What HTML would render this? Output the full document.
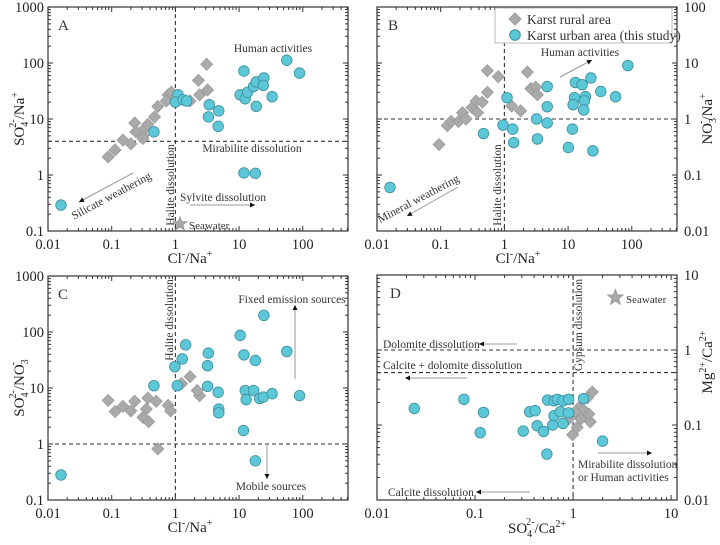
<!DOCTYPE html>
<html><head><meta charset="utf-8"><style>
body{margin:0;background:#fff}
svg{display:block;font-family:"Liberation Serif",serif}
</style></head><body>
<svg id="chart" width="720" height="545" viewBox="0 0 720 545"></svg>
<script>
// ---- Panel A data: SO4/Na vs Cl/Na ----
const aUrbanX=[0.016,0.46,1.1,1.0,1.32,1.5,3.4,3.3,4.8,4.7,11.9,10.4,12.5,13.6,16.9,18.6,24.5,24,18.6,33,56,89,11.9,18];
const aUrbanY=[0.29,5.9,27,20,22,21,18,10.9,14,7.4,72,27,23,30,38,46,54,40,16.8,25,112,66,1.09,1.07];
const aRuralX=[0.088,0.113,0.15,0.2,0.23,0.24,0.31,0.33,0.31,0.37,0.47,0.53,0.77,0.72,0.86,1.7,2.3,2.4,3.2,3.1];
const aRuralY=[2.1,2.8,4.2,3.6,8.5,5.9,5.1,6.8,4.5,8.0,10.9,16.8,27,21,30,21,49,27,33,95];
// ---- Panel B data: NO3/Na vs Cl/Na ----
const bUrbanX=[0.016,0.47,0.95,1.1,1.35,1.4,3.2,3.3,4.7,4.7,4.7,10.1,11.7,13,12.6,12,16.6,18.7,18,17.6,22.8,24.5,32.6,55.7,86.7];
const bUrbanY=[0.06,0.55,0.78,2.4,0.66,0.38,1.0,0.44,3.8,1.66,0.85,0.31,0.66,4.5,2.4,1.8,4.1,2.5,2.1,1.45,5.4,0.27,3.1,2.5,9.0];
const bRuralX=[0.094,0.127,0.146,0.19,0.22,0.25,0.31,0.36,0.38,0.45,0.54,0.54,0.8,1.3,1.8,2.3,2.6,3.1,3.3];
const bRuralY=[0.35,0.76,0.91,0.9,1.3,1.0,1.6,2.1,1.3,2.0,3.0,7.3,5.7,1.7,1.4,6.9,3.5,3.7,2.7];
// ---- Panel C data: SO4/NO3 vs Cl/Na ----
const cUrbanX=[0.016,0.46,0.98,1.07,1.28,1.45,3.3,3.2,3.2,4.7,4.8,4.8,10.4,11.9,11.7,12.5,12.9,16.9,18,18,21,24.5,24,33,56,89];
const cUrbanY=[0.28,11,24,11,33,59,42,25,10.7,8.4,4.2,3.6,87,39,1.74,9.0,6.2,9,31,0.5,6.5,198,6.9,7.9,45,7.3];
const cRuralX=[0.088,0.113,0.15,0.2,0.23,0.31,0.35,0.38,0.37,0.5,0.53,0.77,0.84,1.7,1.25,2.4,2.2];
const cRuralY=[6.0,3.8,4.7,3.9,5.8,3.0,4.2,2.5,6.6,5.8,0.82,4.9,3.9,16,12,7.3,9];
// ---- Panel D data: Mg/Ca vs SO4/Ca ----
const dUrbanX=[0.024,0.077,0.122,0.113,0.31,0.36,0.41,0.43,0.5,0.54,0.55,0.64,0.69,0.79,0.62,0.64,0.74,0.79,0.9,0.9,1.28,2.0];
const dUrbanY=[0.166,0.22,0.147,0.079,0.083,0.15,0.155,0.098,0.082,0.041,0.215,0.21,0.22,0.21,0.1,0.133,0.15,0.105,0.22,0.145,0.225,0.061];
const dRuralX=[0.99,1.1,1.2,1.15,1.27,1.5,1.45,1.57,1.4,1.05,0.9];
const dRuralY=[0.074,0.093,0.12,0.17,0.16,0.11,0.14,0.275,0.23,0.15,0.12];
const majorX1=['0.01','0.1','1','10','100'];
const majorYA=['0.1','1','10','100','1000'];
const majorYB=['0.01','0.1','1','10','100'];
const majorXD=['0.01','0.1','1','10'];
const majorYD=['0.01','0.1','1','10'];

const NS='http://www.w3.org/2000/svg';
const svg=document.getElementById('chart');
function el(tag,attrs,parent){const e=document.createElementNS(NS,tag);for(const k in attrs)e.setAttribute(k,attrs[k]);(parent||svg).appendChild(e);return e;}
function mkScale(p0,p1,l0,l1){return v=>p0+(Math.log10(v)-l0)/(l1-l0)*(p1-p0);}
function rich(x,y,parts,opts,parent){
  const t=el('text',Object.assign({x:x,y:y,'font-size':15,fill:'#222'},opts||{}),parent);
  let shift=0;
  parts.forEach(p=>{
    const s=document.createElementNS(NS,'tspan');
    s.textContent=p[0];
    let dy=0,fs=null,dx=null;
    if(p[1]==='sub'){dy=4;fs=10;}
    if(p[1]==='sup'){dy=-6;fs=10;}
    if(p[1]==='supback'){dy=-8;fs=10;dx=-6;}
    s.setAttribute('dy',dy-shift);shift=dy;
    if(fs)s.setAttribute('font-size',fs);
    if(dx!==null)s.setAttribute('dx',dx);
    t.appendChild(s);
  });
  return t;
}
function panel(cfg){
  const g=el('g',{});
  
  
  const sx=mkScale(cfg.x0,cfg.x1,cfg.lx0,cfg.lx1), sy=mkScale(cfg.y1,cfg.y0,cfg.ly0,cfg.ly1);
  cfg.sx=sx;cfg.sy=sy;
  const tg=el('g',{stroke:'#333','stroke-width':1},g);
  for(let d=Math.floor(cfg.lx0);d<=Math.ceil(cfg.lx1);d++){
    for(let m=1;m<10;m++){const v=m*Math.pow(10,d);const lv=Math.log10(v);if(lv<cfg.lx0-1e-6||lv>cfg.lx1+1e-6)continue;
      const x=sx(v),L=m===1?5:3;
      el('line',{x1:x,x2:x,y1:cfg.y1,y2:cfg.y1-L},tg);el('line',{x1:x,x2:x,y1:cfg.y0,y2:cfg.y0+L},tg);}
  }
  for(let d=Math.floor(cfg.ly0);d<=Math.ceil(cfg.ly1);d++){
    for(let m=1;m<10;m++){const v=m*Math.pow(10,d);const lv=Math.log10(v);if(lv<cfg.ly0-1e-6||lv>cfg.ly1+1e-6)continue;
      const y=sy(v),L=m===1?5:3;
      el('line',{x1:cfg.x0,x2:cfg.x0+L,y1:y,y2:y},tg);el('line',{x1:cfg.x1,x2:cfg.x1-L,y1:y,y2:y},tg);}
  }
  cfg.xt.forEach(s=>{const t=el('text',{x:sx(+s),y:cfg.y1+18,'text-anchor':'middle','font-size':14.5,fill:'#222'},g);t.textContent=s;
    });
  cfg.yt.forEach(s=>{const right=cfg.yRight;const t=el('text',{x:right?cfg.x1+7:cfg.x0-4,y:sy(+s)+5,'text-anchor':right?'start':'end','font-size':14.5,fill:'#222'},g);t.textContent=s;
    });
  (cfg.hl||[]).forEach(v=>{const l=el('line',{x1:cfg.x0,x2:cfg.x1,y1:sy(v),y2:sy(v),stroke:'#333','stroke-dasharray':'4,3','stroke-width':1.1},g);
    });
  (cfg.vl||[]).forEach(v=>{const l=el('line',{x1:sx(v),x2:sx(v),y1:cfg.y0,y2:cfg.y1,stroke:'#333','stroke-dasharray':'4,3','stroke-width':1.1},g);
    });
  cfg.rx.forEach((v,i)=>{const x=sx(v),y=sy(cfg.ry[i]),r=6;
    const d=el('path',{d:`M${x},${y-r}L${x+r},${y}L${x},${y+r}L${x-r},${y}Z`,fill:'#aaaaaa',stroke:'#9a9a9a','stroke-width':0.8},g);
    });
  cfg.ux.forEach((v,i)=>{const c=el('circle',{cx:sx(v),cy:sy(cfg.uy[i]),r:5.3,fill:'#5cc8d7',stroke:'#3d8e9c','stroke-width':0.8},g);
    });
  const f=el('rect',{x:cfg.x0,y:cfg.y0,width:cfg.x1-cfg.x0,height:cfg.y1-cfg.y0,fill:'none',stroke:'#333','stroke-width':1.2},g);
  
  return g;
}
function label(g,x,y,txt,name,opts){const t=el('text',Object.assign({x:x,y:y,'font-size':11.5,fill:'#333'},opts||{}),g);t.textContent=txt;
  return t;}
function arrow(g,x1,y1,x2,y2,name){
  const l=el('line',{x1:x1,y1:y1,x2:x2,y2:y2,stroke:'#999','stroke-width':1},g);
  
  const a=Math.atan2(y2-y1,x2-x1),s=5;
  el('path',{d:`M${x2},${y2}L${x2-s*Math.cos(a)+2.5*Math.sin(a)},${y2-s*Math.sin(a)-2.5*Math.cos(a)}L${x2-s*Math.cos(a)-2.5*Math.sin(a)},${y2-s*Math.sin(a)+2.5*Math.cos(a)}Z`,fill:'#111'},g);
}
function star(g,cx,cy,r,name){let p='';for(let i=0;i<10;i++){const rr=i%2?r*0.42:r;const a=-Math.PI/2+i*Math.PI/5;p+=(i?'L':'M')+(cx+rr*Math.cos(a))+','+(cy+rr*Math.sin(a));}
  const s=el('path',{d:p+'Z',fill:'#aaa',stroke:'#999'},g);}

// Panel A
const A={name:'panel-a',x0:48,x1:348,lx0:-2,lx1:2.71,y0:7,y1:231,ly0:-1,ly1:3,xt:majorX1,yt:majorYA,hl:[4],vl:[1],ux:aUrbanX,uy:aUrbanY,rx:aRuralX,ry:aRuralY};
const gA=panel(A);
label(gA,58,30,'A','panel-a-letter',{'font-size':15});
label(gA,273,52,'Human activities','human-activities-label',{'text-anchor':'middle'});
label(gA,252,152,'Mirabilite dissolution','mirabilite-label',{'text-anchor':'middle'});
label(gA,174,185,'Halite dissolution','halite-label',{'text-anchor':'middle',transform:'rotate(-90 174 185)'});
label(gA,223,201,'Sylvite dissolution','sylvite-label',{'text-anchor':'middle'});
arrow(gA,190,205,255,205,'sylvite-arrow');
label(gA,113,199,'Silicate weathering','silicate-weathering-label',{'text-anchor':'middle',transform:'rotate(-28 113 199)'});
arrow(gA,133,173,79,202,'silicate-arrow');
star(gA,180,224,7,'seawater-marker-a');
label(gA,189,229,'Seawater','seawater-label-a',{'font-size':11});
rich(0,0,[['SO',''],['4','sub'],['2-','supback'],['/Na',''],['+','sup']],{transform:'translate(24 119) rotate(-90)','text-anchor':'middle'},gA);
rich(190,263,[['Cl',''],['-','sup'],['/Na',''],['+','sup']],{'text-anchor':'middle'},gA);

// Panel B
const B={name:'panel-b',x0:377,x1:677,lx0:-2,lx1:2.71,y0:7,y1:231,ly0:-2,ly1:2,xt:majorX1,yt:majorYB,yRight:true,hl:[1],vl:[1],ux:bUrbanX,uy:bUrbanY,rx:bRuralX,ry:bRuralY};
const gB=panel(B);
label(gB,388,30,'B','panel-b-letter',{'font-size':15});
label(gB,580,56,'Human activities','human-activities-label-b',{'text-anchor':'middle'});
arrow(gB,560,77,592,60,'human-activities-arrow-b');
label(gB,501,185,'Halite dissolution','halite-label-b',{'text-anchor':'middle',transform:'rotate(-90 501 185)'});
label(gB,420,202,'Mineral weathering','mineral-weathering-label',{'text-anchor':'middle',transform:'rotate(-28 420 202)'});
arrow(gB,458,187,407,216,'mineral-weathering-arrow');
const lg=el('g',{},gB);
el('rect',{x:495,y:8,width:177,height:35,fill:'#fff',stroke:'#bbb'},lg);
el('path',{d:'M515,13L521,19L515,25L509,19Z',fill:'#aaa',stroke:'#9a9a9a'},lg);
label(lg,527,24,'Karst rural area','legend-rural',{'font-size':13.5});
el('circle',{cx:515,cy:35,r:5.3,fill:'#5cc8d7',stroke:'#3d8e9c'},lg);
label(lg,527,40,'Karst urban area (this study)','legend-urban',{'font-size':13.5});
rich(0,0,[['NO',''],['3','sub'],['-','supback'],['/Na',''],['+','sup']],{transform:'translate(712 119) rotate(-90)','text-anchor':'middle'},gB);
rich(518,263,[['Cl',''],['-','sup'],['/Na',''],['+','sup']],{'text-anchor':'middle'},gB);

// Panel C
const C={name:'panel-c',x0:48,x1:348,lx0:-2,lx1:2.71,y0:276,y1:500,ly0:-1,ly1:3,xt:majorX1,yt:majorYA,hl:[1],vl:[1],ux:cUrbanX,uy:cUrbanY,rx:cRuralX,ry:cRuralY};
const gC=panel(C);
label(gC,58,299,'C','panel-c-letter',{'font-size':15});
label(gC,173,320,'Halite dissolution','halite-label-c',{'text-anchor':'middle',transform:'rotate(-90 173 320)'});
label(gC,292,303,'Fixed emission sources','fixed-emission-label',{'text-anchor':'middle'});
arrow(gC,295,379,295,305,'fixed-emission-arrow');
label(gC,271,490,'Mobile sources','mobile-sources-label',{'text-anchor':'middle'});
arrow(gC,267,445,267,479,'mobile-sources-arrow');
rich(0,0,[['SO',''],['4','sub'],['2-','supback'],['/NO',''],['3','sub'],['-','supback']],{transform:'translate(24 388) rotate(-90)','text-anchor':'middle'},gC);
rich(190,532,[['Cl',''],['-','sup'],['/Na',''],['+','sup']],{'text-anchor':'middle'},gC);

// Panel D
const D={name:'panel-d',x0:377,x1:677,lx0:-2,lx1:1.06,y0:275,y1:500,ly0:-2,ly1:1,xt:majorXD,yt:majorYD,yRight:true,hl:[1,0.5],vl:[1],ux:dUrbanX,uy:dUrbanY,rx:dRuralX,ry:dRuralY};
const gD=panel(D);
label(gD,390,298,'D','panel-d-letter',{'font-size':15});
star(gD,D.sx(2.7),D.sy(5),8,'seawater-marker-d');
label(gD,626,303,'Seawater','seawater-label-d',{'font-size':11});
label(gD,582,325,'Gypsum dissolution','gypsum-label',{'text-anchor':'middle',transform:'rotate(-90 582 325)'});
label(gD,383,348,'Dolomite dissolution','dolomite-label');
arrow(gD,517,344,479,344,'dolomite-arrow');
label(gD,383,369,'Calcite + dolomite dissolution','calcite-dolomite-label');
arrow(gD,467,378,405,378,'calcite-dolomite-arrow');
label(gD,578,468,'Mirabilite dissolution','mirabilite-label-d');
label(gD,578,481,'or Human activities','human-activities-label-d');
arrow(gD,598,453,652,453,'mirabilite-arrow-d');
label(gD,388,496,'Calcite dissolution','calcite-label');
arrow(gD,530,492,476,492,'calcite-arrow');
rich(0,0,[['Mg',''],['2+','sup'],['/Ca',''],['2+','sup']],{transform:'translate(712 362) rotate(-90)','text-anchor':'middle'},gD);
rich(537,533,[['SO',''],['4','sub'],['2-','supback'],['/Ca',''],['2+','sup']],{'text-anchor':'middle'},gD);
</script>
</body></html>
